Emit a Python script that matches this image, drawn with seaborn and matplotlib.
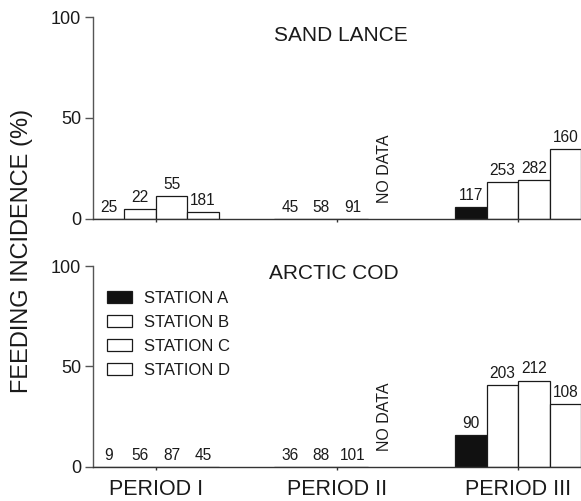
import numpy as np
import pandas as pd
import matplotlib
matplotlib.use("Agg")
import matplotlib.pyplot as plt
from matplotlib.patches import Patch
import seaborn as sns

# ---------------- data ----------------
periods = ["PERIOD I", "PERIOD II", "PERIOD III"]
stations = ["STATION A", "STATION B", "STATION C", "STATION D"]

# feeding incidence (%) per period, stations A-D (nan = no data)
sand_lance_pct = [[0.0, 5.0, 11.2, 3.5],
                  [0.0, 0.0, 0.0, np.nan],
                  [6.0, 18.1, 19.2, 34.8]]
sand_lance_n = [[25, 22, 55, 181],
                [45, 58, 91, None],
                [117, 253, 282, 160]]

arctic_cod_pct = [[0.0, 0.0, 0.0, 0.0],
                  [0.0, 0.0, 0.0, np.nan],
                  [15.7, 40.8, 43.0, 31.2]]
arctic_cod_n = [[9, 56, 87, 45],
                [36, 88, 101, None],
                [90, 203, 212, 108]]

panel_titles = ["SAND LANCE", "ARCTIC COD"]
y_ticks = [0, 50, 100]
no_data_label = "NO DATA"
y_label = "FEEDING INCIDENCE (%)"

# ---------------- style ----------------
sns.set_style("white")
plt.rcParams["font.family"] = ["Liberation Sans", "DejaVu Sans"]
TXT = "#1a1a1a"
palette = {"STATION A": "#111111", "STATION B": "white",
           "STATION C": "white", "STATION D": "white"}
group_width = 0.694


def make_df(pct, n):
    rows = []
    for i, p in enumerate(periods):
        for j, s in enumerate(stations):
            rows.append({"period": p, "station": s,
                         "pct": pct[i][j], "n": n[i][j]})
    return pd.DataFrame(rows)


fig = plt.figure(figsize=(5.81, 5.01), dpi=100)
ax_top = fig.add_axes([0.160, 0.563, 0.840, 0.403])
ax_bot = fig.add_axes([0.160, 0.068, 0.840, 0.401])

bar_w = group_width / len(stations)

for k, (ax, pct, n) in enumerate([(ax_top, sand_lance_pct, sand_lance_n),
                                  (ax_bot, arctic_cod_pct, arctic_cod_n)]):
    df = make_df(pct, n)
    sns.barplot(data=df.dropna(subset=["pct"]), x="period", y="pct",
                hue="station", order=periods, hue_order=stations,
                palette=palette, saturation=1, width=group_width,
                edgecolor="#1a1a1a", linewidth=0.9, legend=False,
                errorbar=None, ax=ax)

    lookup = {(r.period, r.station): r.n for r in df.itertuples()}
    for ci, cont in enumerate(ax.containers):
        st = stations[ci]
        for patch in cont.patches:
            h = patch.get_height()
            if np.isnan(h):
                continue
            xc = patch.get_x() + patch.get_width() / 2
            pi = int(round(xc))
            lab = lookup.get((periods[pi], st))
            if lab is None:
                continue
            ax.annotate(str(int(lab)), (xc, h), xytext=(0, 3),
                        textcoords="offset points", ha="center",
                        va="bottom", fontsize=11.2, color=TXT,
                        annotation_clip=False)

    # NO DATA marker in period II, station D slot
    xd = 1 + (3 - 1.5) * bar_w
    ax.text(xd, 8, no_data_label, rotation=90, ha="center", va="bottom",
            fontsize=11.5, color=TXT)

    ax.set_xlim(-group_width / 2, 2 + group_width / 2)
    ax.set_ylim(0, 100)
    ax.set_yticks(y_ticks)
    ax.set_yticklabels([str(t) for t in y_ticks], fontsize=13, color=TXT)
    ax.set_xlabel("")
    ax.set_ylabel("")
    sns.despine(ax=ax)
    ax.spines["left"].set_color("#555555")
    ax.spines["left"].set_linewidth(1.0)
    ax.spines["bottom"].set_color("#333333")
    ax.spines["bottom"].set_linewidth(1.0)
    ax.tick_params(axis="y", direction="out", length=5.5, width=1.0,
                   color="#555555", pad=3, left=True)
    ax.tick_params(axis="x", direction="out", length=2.5, width=1.0,
                   color="#333333", bottom=True)
    ax.set_facecolor("none")

# titles
ax_top.text(0.507, 0.911, panel_titles[0], transform=ax_top.transAxes,
            ha="center", va="center", fontsize=15, color=TXT)
ax_bot.text(0.494, 0.965, panel_titles[1], transform=ax_bot.transAxes,
            ha="center", va="center", fontsize=15, color=TXT)

ax_top.set_xticklabels([])
ax_bot.set_xticks(range(len(periods)))
ax_bot.set_xticklabels(periods, fontsize=15.5, color=TXT)
ax_bot.tick_params(axis="x", pad=6)

# legend
handles = [Patch(facecolor=palette[s], edgecolor="#1a1a1a", linewidth=0.9,
                 label=s) for s in stations]
ax_bot.legend(handles=handles, loc="upper left",
              bbox_to_anchor=(0.0287, 0.878), frameon=False, fontsize=12,
              handlelength=1.5, handleheight=0.72, handletextpad=0.75,
              labelspacing=0.54, borderpad=0, borderaxespad=0,
              labelcolor=TXT)

fig.text(0.038, 0.5, y_label, rotation=90, ha="center", va="center",
         fontsize=17, color=TXT)

fig.savefig("out.png", dpi=100)
